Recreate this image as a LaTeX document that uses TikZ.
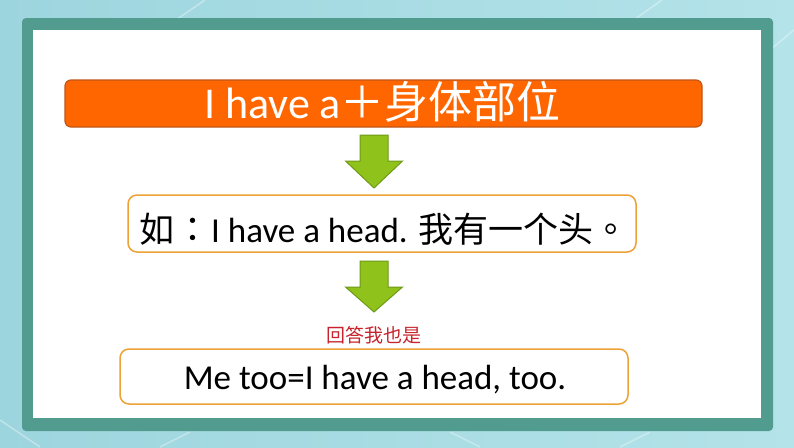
\documentclass[tikz,border=0pt]{standalone}
\usepackage{fontspec}
\setmainfont{Carlito}
\newfontfamily\cjk{Noto Sans CJK SC}
\newfontfamily\cjkp{Noto Sans CJK TC}
\definecolor{bgA}{HTML}{9DD5DE}
\definecolor{bgB}{HTML}{B4E3E9}
\definecolor{teal}{HTML}{529B8F}
\definecolor{orangefill}{HTML}{FF6600}
\definecolor{orangeline}{HTML}{C0561A}
\definecolor{greenfill}{HTML}{8FC21A}
\definecolor{greenline}{HTML}{6E9A18}
\definecolor{boxline}{HTML}{EEA236}
\definecolor{redtext}{HTML}{C8232C}
\tikzset{
  titlebox/.style={draw=orangeline, line width=1.2pt, fill=orangefill, rounded corners=6pt, minimum width=637pt, minimum height=47pt, inner sep=0pt},
  whitebox/.style={draw=boxline, line width=1.5pt, fill=white, rounded corners=9pt, inner sep=0pt},
  titletext/.style={text=white, font=\fontsize{44}{46}\selectfont, inner sep=0pt},
  bodytext/.style={text=black, inner sep=0pt},
  arrowshape/.style={fill=greenfill, draw=greenline, line width=1pt, line join=miter},
  glare/.style={white, opacity=0.35, line width=1.5pt}
}
\newcommand\greenarrow[4]{%
  \filldraw[arrowshape] (#1-14,#2) -- (#1+14,#2) -- (#1+14,#3) -- (#1+28.5,#3) -- (#1,#4) -- (#1-28.5,#3) -- (#1-14,#3) -- cycle;}
\begin{document}
\begin{tikzpicture}[x=1pt,y=-1pt]
\useasboundingbox (0,0) rectangle (794,447);
% background
\shade[left color=bgA, right color=bgB] (0,0) rectangle (794,447);
\draw[glare] (170,24) -- (205,0);
\draw[glare] (628,24) -- (662,0);
\draw[glare] (770,50) -- (794,30);
\draw[glare] (0,420) -- (40,447);
\draw[glare] (160,447) -- (190,432);
\draw[glare] (450,432) -- (480,447);
\draw[glare] (620,447) -- (650,432);
% frame
\fill[teal, rounded corners=4pt] (22,18) rectangle (773,431);
\fill[white] (33,30) rectangle (761,418);
% title
\node[titlebox] (title) at (383.5,103.5) {};
\node[titletext, anchor=base] (titletxt) at (382.5,118.5) {I have a{\cjk ＋身体部位}};
% arrow 1
\greenarrow{374}{135}{161}{188}
% box 2
\node[whitebox, minimum width=508pt, minimum height=57pt] (ex) at (382,223.5) {};
\node[bodytext, anchor=base west, font=\fontsize{35}{37}\selectfont] (extxt) at (139,242) {{\cjk 如}\kern1pt{\cjkp ：}\kern1pt I have a head. {\cjk 我有一个头}{\cjkp 。}};
% arrow 2
\greenarrow{374}{261}{287}{312}
% red text
\node[text=redtext, font=\cjk\fontsize{19}{21}\selectfont, inner sep=0pt] (ans) at (374,335) {回答我也是};
% box 3
\node[whitebox, minimum width=508pt, minimum height=55pt] (me) at (374,376.5) {};
\node[bodytext, anchor=base, font=\fontsize{35}{37}\selectfont] (metxt) at (375,389) {Me too=I have a head, too.};
\end{tikzpicture}
\end{document}
